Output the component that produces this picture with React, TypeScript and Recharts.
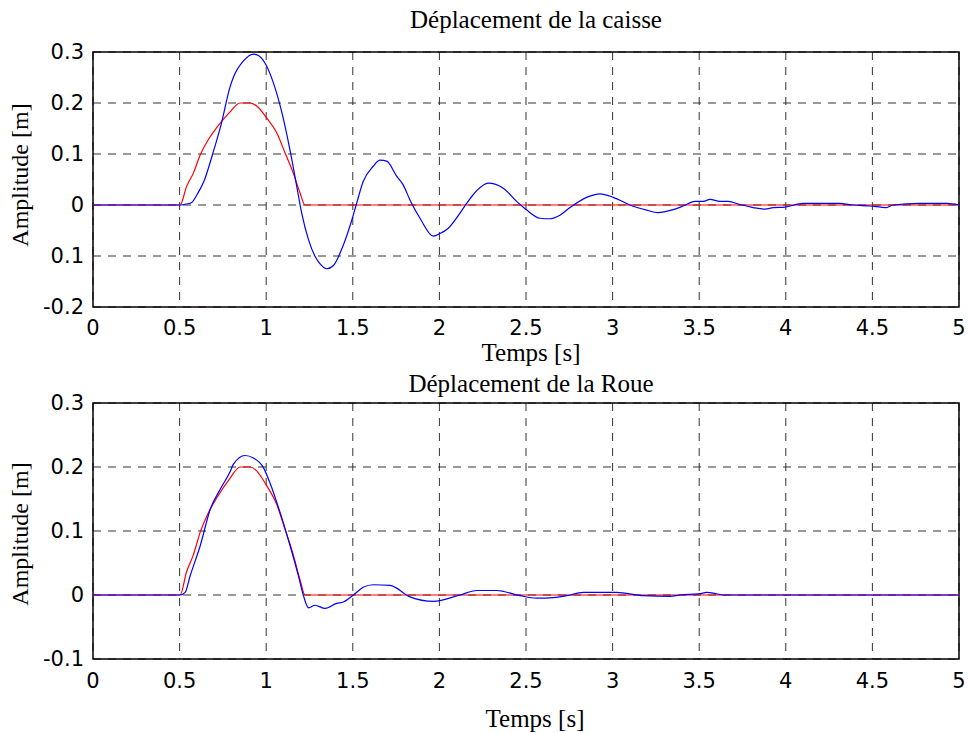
import React from 'react';
import {
  LineChart,
  Line,
  XAxis,
  YAxis,
  CartesianGrid,
  ReferenceArea,
} from 'recharts';

// Axes
const xTicks = [0, 0.5, 1, 1.5, 2, 2.5, 3, 3.5, 4, 4.5, 5];
const xTickLabels = ['0', '0.5', '1', '1.5', '2', '2.5', '3', '3.5', '4', '4.5', '5'];
const topYTicks = [-0.2, -0.1, 0, 0.1, 0.2, 0.3];
const topYTickLabels = ['-0.2', '0.1', '0', '0.1', '0.2', '0.3'];
const bottomYTicks = [-0.1, 0, 0.1, 0.2, 0.3];
const bottomYTickLabels = ['-0.1', '0', '0.1', '0.2', '0.3'];

// Profil de la route (rouge), identique sur les deux graphes
const roadT = [0, 0.503, 0.54, 0.58, 0.62, 0.667, 0.715, 0.79, 0.849, 0.907, 0.945, 1.0, 1.06, 1.108, 1.156, 1.195, 1.224, 5];
const roadV = [0, 0, 0.036, 0.063, 0.099, 0.129, 0.152, 0.182, 0.2, 0.2, 0.194, 0.172, 0.142, 0.103, 0.063, 0.024, 0, 0];

// Déplacement de la caisse (bleu)
const caisseT = [
  0, 0.503, 0.54, 0.57, 0.6, 0.64, 0.69, 0.74, 0.79, 0.81, 0.87, 0.925, 0.955, 1.0, 1.04, 1.09, 1.14, 1.176,
  1.205, 1.245, 1.284, 1.31, 1.349, 1.387, 1.445, 1.494, 1.522, 1.56, 1.618, 1.657, 1.696, 1.754, 1.79, 1.83,
  1.888, 1.965, 2.003, 2.05, 2.119, 2.157, 2.215, 2.282, 2.369, 2.446, 2.504, 2.581, 2.638, 2.696, 2.754, 2.85,
  2.927, 3.004, 3.1, 3.197, 3.26, 3.35, 3.408, 3.476, 3.524, 3.562, 3.62, 3.668, 3.735, 3.812, 3.88, 3.928,
  3.995, 4.1, 4.31, 4.39, 4.485, 4.58, 4.62, 4.77, 4.93, 5,
];
const caisseV = [
  0, 0, 0.002, 0.005, 0.02, 0.046, 0.099, 0.158, 0.23, 0.25, 0.283, 0.296, 0.293, 0.274, 0.241, 0.182, 0.103, 0.037,
  -0.016, -0.069, -0.102, -0.115, -0.125, -0.119, -0.079, -0.03, 0.003, 0.046, 0.076, 0.088, 0.086, 0.056, 0.04, 0.01,
  -0.026, -0.061, -0.056, -0.046, -0.016, 0.003, 0.028, 0.043, 0.033, 0.007, -0.01, -0.026, -0.027, -0.02, -0.005, 0.015,
  0.022, 0.015, 0, -0.01, -0.015, -0.009, -0.002, 0.007, 0.007, 0.011, 0.007, 0.007, 0.001, -0.005, -0.008, -0.005,
  -0.004, 0.003, 0.003, 0, -0.002, -0.005, 0, 0.003, 0.003, 0,
];

// Déplacement de la roue (bleu)
const roueT = [
  0, 0.503, 0.532, 0.561, 0.619, 0.677, 0.734, 0.792, 0.81, 0.878, 0.926, 0.984, 1.022, 1.08, 1.138, 1.186,
  1.215, 1.245, 1.282, 1.34, 1.407, 1.445, 1.503, 1.56, 1.618, 1.715, 1.83, 1.965, 2.119, 2.215, 2.331, 2.465,
  2.561, 2.658, 2.735, 2.831, 3.023, 3.177, 3.331, 3.389, 3.504, 3.543, 3.6, 3.639, 5,
];
const roueV = [
  0, 0, 0.004, 0.03, 0.077, 0.134, 0.165, 0.193, 0.204, 0.218, 0.214, 0.199, 0.175, 0.129, 0.077, 0.03,
  -0.001, -0.02, -0.016, -0.021, -0.013, -0.011, 0, 0.012, 0.016, 0.015, -0.003, -0.01, 0, 0.007, 0.007, -0.001,
  -0.005, -0.004, -0.001, 0.004, 0.004, -0.001, -0.002, 0, 0.002, 0.004, 0.002, 0, 0,
];

const toPoints = (ts: number[], vs: number[]) => ts.map((t, i) => ({ t, v: vs[i] }));

const labelFor = (ticks: number[], labels: string[]) => (v: number) => {
  const i = ticks.findIndex((t) => Math.abs(t - v) < 1e-9);
  return i >= 0 ? labels[i] : String(v);
};

const tickStyle = { fontFamily: '"DejaVu Sans", sans-serif', fontSize: 21, fill: '#000' };
const serif = '"Liberation Serif", serif';

interface PanelProps {
  blue: { t: number; v: number }[];
  yTicks: number[];
  yLabels: string[];
  xHeight: number;
  xMargin: number;
}

function Panel({ blue, yTicks, yLabels, xHeight, xMargin }: PanelProps) {
  const yMin = yTicks[0];
  const yMax = yTicks[yTicks.length - 1];
  return (
    <LineChart width={968} height={360} margin={{ top: 52, right: 9, bottom: 20, left: 0 }}>
      <CartesianGrid stroke="#333" strokeDasharray="8 7" strokeWidth={1} />
      <XAxis
        dataKey="t"
        type="number"
        domain={[0, 5]}
        ticks={xTicks}
        tickFormatter={labelFor(xTicks, xTickLabels)}
        height={xHeight}
        tickSize={0}
        tickMargin={xMargin}
        axisLine={false}
        tick={tickStyle}
        allowDataOverflow
      />
      <YAxis
        type="number"
        domain={[yMin, yMax]}
        ticks={yTicks}
        tickFormatter={labelFor(yTicks, yLabels)}
        width={93}
        tickSize={0}
        tickMargin={9}
        axisLine={false}
        tick={tickStyle}
        allowDataOverflow
      />
      <ReferenceArea x1={0} x2={5} y1={yMin} y2={yMax} fill="none" stroke="#000" strokeWidth={1.5} />
      <Line data={toPoints(roadT, roadV)} dataKey="v" type="monotone" stroke="#ff0000" strokeWidth={1.2} dot={false} isAnimationActive={false} />
      <Line data={blue} dataKey="v" type="monotone" stroke="#0000ff" strokeWidth={1.2} dot={false} isAnimationActive={false} />
    </LineChart>
  );
}

export default function App() {
  return (
    <div style={{ position: 'absolute', left: 0, top: 0, width: 968, height: 733, background: '#fff' }}>
      <div style={{ position: 'absolute', left: 0, top: 0 }}>
        <Panel blue={toPoints(caisseT, caisseV)} yTicks={topYTicks} yLabels={topYTickLabels} xHeight={33} xMargin={13} />
      </div>
      <div style={{ position: 'absolute', left: 0, top: 351 }}>
        <Panel blue={toPoints(roueT, roueV)} yTicks={bottomYTicks} yLabels={bottomYTickLabels} xHeight={32} xMargin={14} />
      </div>
      <svg width={968} height={733} style={{ position: 'absolute', left: 0, top: 0, pointerEvents: 'none' }}>
        <g fontFamily={serif} fontSize={25} fill="#000" textAnchor="middle">
          <text x={536} y={28}>Déplacement de la caisse</text>
          <text x={531} y={361}>Temps [s]</text>
          <text x={531} y={392}>Déplacement de la Roue</text>
          <text x={535} y={727}>Temps [s]</text>
        </g>
        <g fontFamily={serif} fontSize={24} fill="#000" textAnchor="middle">
          <text x={28} y={175} transform="rotate(-90 28 175)">Amplitude [m]</text>
          <text x={28} y={534} transform="rotate(-90 28 534)">Amplitude [m]</text>
        </g>
      </svg>
    </div>
  );
}
